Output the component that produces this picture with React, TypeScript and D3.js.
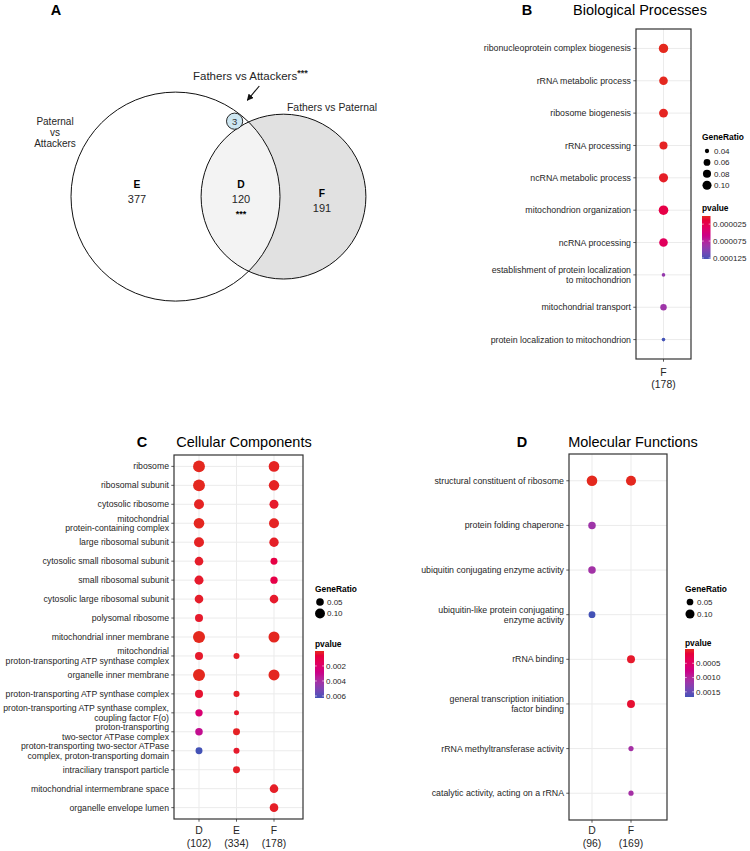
import React from "react";
import * as d3 from "d3";

const FONT = "'Liberation Sans', Arial, Helvetica, sans-serif";

// ---------------- Panel A (Venn) ----------------
const vennRegions = ["E", "D", "F"];
const vennCounts = [377, 120, 191];
const vennCommonCount = 3;
const vennLeftName = ["Paternal", "vs", "Attackers"];
const vennRightName = "Fathers vs Paternal";
const vennSmallName = "Fathers vs Attackers";

// ---------------- Panel B: Biological Processes ----------------
const bpTerms = [
  "ribonucleoprotein complex biogenesis",
  "rRNA metabolic process",
  "ribosome biogenesis",
  "rRNA processing",
  "ncRNA metabolic process",
  "mitochondrion organization",
  "ncRNA processing",
  "establishment of protein localization\nto mitochondrion",
  "mitochondrial transport",
  "protein localization to mitochondrion",
];
const bpGroups = ["F"];
const bpGroupSizes = [178];
const bpRatioF = [0.107, 0.09, 0.096, 0.079, 0.101, 0.112, 0.09, 0.039, 0.056, 0.039];
const bpPvalueF = [1.0e-6, 1.5e-6, 2.5e-6, 3.5e-6, 5e-6, 2.1e-5, 3.3e-5, 9.3e-5, 8.8e-5, 1.28e-4];
const bpSizeBreaks = [0.04, 0.06, 0.08, 0.1];
const bpPvalueBreaks = [0.000025, 0.000075, 0.000125];

// ---------------- Panel C: Cellular Components ----------------
const ccTerms = [
  "ribosome",
  "ribosomal subunit",
  "cytosolic ribosome",
  "mitochondrial\nprotein-containing complex",
  "large ribosomal subunit",
  "cytosolic small ribosomal subunit",
  "small ribosomal subunit",
  "cytosolic large ribosomal subunit",
  "polysomal ribosome",
  "mitochondrial inner membrane",
  "mitochondrial\nproton-transporting ATP synthase complex",
  "organelle inner membrane",
  "proton-transporting ATP synthase complex",
  "proton-transporting ATP synthase complex,\ncoupling factor F(o)",
  "proton-transporting\ntwo-sector ATPase complex",
  "proton-transporting two-sector ATPase\ncomplex, proton-transporting domain",
  "intraciliary transport particle",
  "mitochondrial intermembrane space",
  "organelle envelope lumen",
];
const ccGroups = ["D", "E", "F"];
const ccGroupSizes = [102, 334, 178];
const ccRatioD = [0.165, 0.165, 0.101, 0.12, 0.101, 0.067, 0.076, 0.067, 0.056, 0.17, 0.056, 0.17, 0.056, 0.046, 0.048, 0.041, null, null, null];
const ccRatioE = [null, null, null, null, null, null, null, null, null, null, 0.033, null, 0.033, 0.03, 0.041, 0.033, 0.041, null, null];
const ccRatioF = [0.12, 0.115, 0.076, 0.101, 0.085, 0.041, 0.046, 0.067, null, 0.133, null, 0.133, null, null, null, null, null, 0.067, 0.067];
const ccPvalueD = [2e-5, 3e-5, 1e-4, 5e-5, 1.2e-4, 2.5e-4, 3e-4, 2.5e-4, 3e-4, 1e-5, 3e-4, 5e-6, 4e-4, 2.2e-3, 3.2e-3, 6.27e-3, null, null, null];
const ccPvalueE = [null, null, null, null, null, null, null, null, null, null, 2e-4, null, 2e-4, 3e-4, 1.5e-4, 3e-4, 2e-4, null, null];
const ccPvalueF = [1e-4, 1.2e-4, 3e-4, 1e-4, 2e-4, 9e-4, 1e-3, 3e-4, null, 5e-5, null, 4e-5, null, null, null, null, null, 2e-4, 2e-4];
const ccSizeBreaks = [0.05, 0.1];
const ccPvalueBreaks = [0.002, 0.004, 0.006];

// ---------------- Panel D: Molecular Functions ----------------
const mfTerms = [
  "structural constituent of ribosome",
  "protein folding chaperone",
  "ubiquitin conjugating enzyme activity",
  "ubiquitin-like protein conjugating\nenzyme activity",
  "rRNA binding",
  "general transcription initiation\nfactor binding",
  "rRNA methyltransferase activity",
  "catalytic activity, acting on a rRNA",
];
const mfGroups = ["D", "F"];
const mfGroupSizes = [96, 169];
const mfRatioD = [0.156, 0.0625, 0.0625, 0.052, null, null, null, null];
const mfRatioF = [0.136, null, null, null, 0.071, 0.071, 0.041, 0.041];
const mfPvalueD = [1e-7, 1.15e-3, 1.12e-3, 1.68e-3, null, null, null, null];
const mfPvalueF = [5e-6, null, null, null, 8e-5, 1.2e-4, 1.1e-3, 1.1e-3];
const mfSizeBreaks = [0.05, 0.1];
const mfPvalueBreaks = [0.0005, 0.001, 0.0015];

const RED = "#e4291e";
const BLUE = "#4352b6";
const TXT = "#262626";

type Num = number | null;

interface PanelProps {
  id: string;
  letter: string;
  letterX: number;
  title: string;
  titleX: number;
  titleY: number;
  terms: string[];
  groups: string[];
  groupSizes: number[];
  ratios: Num[][];
  pvals: Num[][];
  box: { l: number; r: number; t: number; b: number };
  colRange: [number, number];
  colPad: number;
  labelSize: number;
  lineGap: number;
  rRange: [number, number];
  sizeBreaks: number[];
  pBreaks: number[];
  pFmt: (n: number) => string;
  axisY: [number, number];
  legend: {
    x: number;
    titleY: number;
    itemY0: number;
    itemStep: number;
    circleX: number;
    textX: number;
    pTitleY: number;
    barW: number;
    barTop: number;
    barBottom: number;
    pLabelX: number;
  };
}

function DotPanel(p: PanelProps) {
  const { box, legend } = p;
  const y = d3
    .scalePoint<number>()
    .domain(d3.range(p.terms.length))
    .range([box.t, box.b])
    .padding(0.6);
  const x = d3.scalePoint<string>().domain(p.groups).range(p.colRange).padding(p.colPad);

  const cells: { g: string; t: number; ratio: number; pv: number }[] = [];
  p.groups.forEach((g, gi) => {
    p.ratios[gi].forEach((r, ti) => {
      const pv = p.pvals[gi][ti];
      if (r != null && pv != null) cells.push({ g, t: ti, ratio: r, pv });
    });
  });
  const rExt = d3.extent(cells, (c) => c.ratio) as [number, number];
  const pExt = d3.extent(cells, (c) => c.pv) as [number, number];
  const tScale = d3.scaleLinear().domain(rExt).range([0, 1]).clamp(true);
  const radius = (v: number) => p.rRange[0] + Math.sqrt(tScale(v)) * (p.rRange[1] - p.rRange[0]);
  const color = d3
    .scaleLinear<string>()
    .domain(pExt)
    .range([RED, BLUE])
    .interpolate(d3.interpolateHcl);
  const barY = d3.scaleLinear().domain(pExt).range([legend.barTop, legend.barBottom]);
  const gradId = `grad-${p.id}`;
  const stops = d3.range(0, 1.0001, 0.05);

  return (
    <g>
      <text x={p.letterX} y={p.titleY} fontSize={14.5} fontWeight="bold" textAnchor="middle" fontFamily={FONT}>
        {p.letter}
      </text>
      <text x={p.titleX} y={p.titleY} fontSize={14.5} textAnchor="middle" fontFamily={FONT}>
        {p.title}
      </text>
      {/* grid */}
      {p.terms.map((_, i) => (
        <line key={"h" + i} x1={box.l} x2={box.r} y1={y(i)} y2={y(i)} stroke="#ebebeb" strokeWidth={1} />
      ))}
      {p.groups.map((g) => (
        <line key={"v" + g} x1={x(g)} x2={x(g)} y1={box.t} y2={box.b} stroke="#ebebeb" strokeWidth={1} />
      ))}
      {/* dots */}
      {cells.map((c, i) => (
        <circle key={"c" + i} cx={x(c.g)} cy={y(c.t)} r={radius(c.ratio)} fill={color(c.pv)} />
      ))}
      <rect x={box.l} y={box.t} width={box.r - box.l} height={box.b - box.t} fill="none" stroke="#333" strokeWidth={1.2} />
      {/* y ticks & labels */}
      {p.terms.map((term, i) => {
        const lines = term.split("\n");
        const yy = y(i) as number;
        return (
          <g key={"l" + i}>
            <line x1={box.l - 2.7} x2={box.l} y1={yy} y2={yy} stroke="#333" strokeWidth={0.8} />
            <text x={box.l - 5} textAnchor="end" fontSize={p.labelSize} fontFamily={FONT} fill={TXT}>
              {lines.map((ln, k) => (
                <tspan key={k} x={box.l - 5} y={yy + (k - (lines.length - 1) / 2) * p.lineGap + p.labelSize * 0.35}>
                  {ln}
                </tspan>
              ))}
            </text>
          </g>
        );
      })}
      {/* x ticks & labels */}
      {p.groups.map((g, gi) => (
        <g key={"x" + g}>
          <line x1={x(g)} x2={x(g)} y1={box.b} y2={box.b + 2.7} stroke="#333" strokeWidth={0.8} />
          <text x={x(g)} textAnchor="middle" fontSize={10.4} fontFamily={FONT} fill={TXT}>
            <tspan x={x(g)} y={p.axisY[0]}>{g}</tspan>
            <tspan x={x(g)} y={p.axisY[1]}>({p.groupSizes[gi]})</tspan>
          </text>
        </g>
      ))}
      {/* size legend */}
      <text x={legend.x} y={legend.titleY} fontSize={8.4} fontWeight="bold" fontFamily={FONT}>
        GeneRatio
      </text>
      {p.sizeBreaks.map((s, i) => {
        const cy = legend.itemY0 + i * legend.itemStep;
        return (
          <g key={"s" + i}>
            <circle cx={legend.circleX} cy={cy} r={radius(s)} fill="#000" />
            <text x={legend.textX} y={cy + 2.8} fontSize={8} fontFamily={FONT} fill={TXT}>
              {s.toFixed(2)}
            </text>
          </g>
        );
      })}
      {/* colour legend */}
      <defs>
        <linearGradient id={gradId} x1="0" y1="0" x2="0" y2="1">
          {stops.map((s, i) => (
            <stop key={i} offset={s} stopColor={color(pExt[0] + s * (pExt[1] - pExt[0]))} />
          ))}
        </linearGradient>
      </defs>
      <text x={legend.x} y={legend.pTitleY} fontSize={8.4} fontWeight="bold" fontFamily={FONT}>
        pvalue
      </text>
      <rect x={legend.x} y={legend.barTop} width={legend.barW} height={legend.barBottom - legend.barTop} fill={`url(#${gradId})`} />
      {p.pBreaks.map((b, i) => {
        const yy = barY(b);
        return (
          <g key={"p" + i}>
            <line x1={legend.x} x2={legend.x + 1.8} y1={yy} y2={yy} stroke="#fff" strokeWidth={0.6} />
            <line x1={legend.x + legend.barW - 1.8} x2={legend.x + legend.barW} y1={yy} y2={yy} stroke="#fff" strokeWidth={0.6} />
            <text x={legend.pLabelX} y={yy + 2.8} fontSize={8} fontFamily={FONT} fill={TXT}>
              {p.pFmt(b)}
            </text>
          </g>
        );
      })}
    </g>
  );
}

function VennPanel() {
  const rScale = d3.scaleSqrt().domain([0, 500]).range([0, 104.5]);
  const leftTotal = vennCounts[0] + vennCounts[1] + vennCommonCount;
  const rightTotal = vennCounts[1] + vennCounts[2];
  const rL = rScale(leftTotal);
  const rR = rScale(rightTotal);
  const rS = rScale(vennCommonCount);
  const cL = { x: 175.5, y: 196.6 };
  const cR = { x: 283.5, y: 196.6 };
  const cS = { x: 234.6, y: 121.2 };
  return (
    <g fontFamily={FONT}>
      <defs>
        <clipPath id="clipLeft">
          <circle cx={cL.x} cy={cL.y} r={rL} />
        </clipPath>
        <marker id="arrowHead" viewBox="0 0 10 10" refX="9" refY="5" markerWidth="6" markerHeight="6" orient="auto">
          <path d="M0,0 L10,5 L0,10 z" fill="#111" />
        </marker>
      </defs>
      <text x={56} y={14.5} fontSize={14.5} fontWeight="bold" textAnchor="middle">
        A
      </text>
      <circle cx={cR.x} cy={cR.y} r={rR} fill="#e1e1e1" />
      <circle cx={cR.x} cy={cR.y} r={rR} fill="#f3f3f3" clipPath="url(#clipLeft)" />
      <circle cx={cL.x} cy={cL.y} r={rL} fill="none" stroke="#111" strokeWidth={1} />
      <circle cx={cR.x} cy={cR.y} r={rR} fill="none" stroke="#111" strokeWidth={1} />
      <circle cx={cS.x} cy={cS.y} r={rS} fill="#cde6f1" stroke="#111" strokeWidth={0.9} />
      <text x={cS.x} y={cS.y + 3.4} fontSize={9.5} textAnchor="middle" fill="#333">
        {vennCommonCount}
      </text>
      {/* arrow */}
      <line x1={259.3} y1={86} x2={247.3} y2={100.3} stroke="#111" strokeWidth={1.1} markerEnd="url(#arrowHead)" />
      {/* set labels */}
      <text x={193} y={80} fontSize={11.5} fill={TXT}>
        {vennSmallName}
        <tspan fontSize={9} fontWeight="bold" dy={-4}>***</tspan>
      </text>
      <text x={287} y={111.3} fontSize={10.4} fill={TXT}>
        {vennRightName}
      </text>
      <text x={55} fontSize={10} textAnchor="middle" fill={TXT}>
        {vennLeftName.map((ln, i) => (
          <tspan key={ln} x={55} y={124.5 + i * 11.3}>
            {ln}
          </tspan>
        ))}
      </text>
      {/* region labels */}
      <text x={137} y={188.3} fontSize={10.3} fontWeight="bold" textAnchor="middle">
        {vennRegions[0]}
      </text>
      <text x={137} y={202.7} fontSize={11} textAnchor="middle" fill={TXT}>
        {vennCounts[0]}
      </text>
      <text x={241} y={188.3} fontSize={10.3} fontWeight="bold" textAnchor="middle">
        {vennRegions[1]}
      </text>
      <text x={241} y={202.7} fontSize={11} textAnchor="middle" fill={TXT}>
        {vennCounts[1]}
      </text>
      <text x={241} y={216.5} fontSize={9} fontWeight="bold" textAnchor="middle">
        ***
      </text>
      <text x={322} y={196.7} fontSize={10.3} fontWeight="bold" textAnchor="middle">
        {vennRegions[2]}
      </text>
      <text x={322} y={212} fontSize={11} textAnchor="middle" fill={TXT}>
        {vennCounts[2]}
      </text>
    </g>
  );
}

export default function App() {
  return (
    <svg
      width={750}
      height={851}
      viewBox="0 0 750 851"
      style={{ position: "absolute", left: 0, top: 0, background: "#fff" }}
      fontFamily={FONT}
    >
      <rect width={750} height={851} fill="#fff" />
      <VennPanel />
      <DotPanel
        id="bp"
        letter="B"
        letterX={527}
        title="Biological Processes"
        titleX={640}
        titleY={14.5}
        terms={bpTerms}
        groups={bpGroups}
        groupSizes={bpGroupSizes}
        ratios={[bpRatioF]}
        pvals={[bpPvalueF]}
        box={{ l: 636, r: 691, t: 29, b: 359 }}
        colRange={[636, 691]}
        colPad={0.6}
        labelSize={8.8}
        lineGap={10.5}
        rRange={[1.8, 4.8]}
        sizeBreaks={bpSizeBreaks}
        pBreaks={bpPvalueBreaks}
        pFmt={d3.format(".6f")}
        axisY={[375.5, 388]}
        legend={{
          x: 702,
          titleY: 140,
          itemY0: 151,
          itemStep: 11.4,
          circleX: 707,
          textX: 714,
          pTitleY: 211,
          barW: 8.5,
          barTop: 216,
          barBottom: 259,
          pLabelX: 713,
        }}
      />
      <DotPanel
        id="cc"
        letter="C"
        letterX={142}
        title="Cellular Components"
        titleX={244}
        titleY={446.5}
        terms={ccTerms}
        groups={ccGroups}
        groupSizes={ccGroupSizes}
        ratios={[ccRatioD, ccRatioE, ccRatioF]}
        pvals={[ccPvalueD, ccPvalueE, ccPvalueF]}
        box={{ l: 174, r: 303, t: 455, b: 819 }}
        colRange={[199, 274]}
        colPad={0}
        labelSize={8.7}
        lineGap={9.5}
        rRange={[2.5, 6]}
        sizeBreaks={ccSizeBreaks}
        pBreaks={ccPvalueBreaks}
        pFmt={d3.format(".3f")}
        axisY={[834, 847]}
        legend={{
          x: 315,
          titleY: 592,
          itemY0: 602,
          itemStep: 11.5,
          circleX: 320,
          textX: 327,
          pTitleY: 647,
          barW: 9,
          barTop: 651,
          barBottom: 698,
          pLabelX: 326,
        }}
      />
      <DotPanel
        id="mf"
        letter="D"
        letterX={522}
        title="Molecular Functions"
        titleX={633}
        titleY={446.5}
        terms={mfTerms}
        groups={mfGroups}
        groupSizes={mfGroupSizes}
        ratios={[mfRatioD, mfRatioF]}
        pvals={[mfPvalueD, mfPvalueF]}
        box={{ l: 569, r: 667, t: 454, b: 820 }}
        colRange={[592, 631]}
        colPad={0}
        labelSize={8.8}
        lineGap={10.5}
        rRange={[2.6, 5.3]}
        sizeBreaks={mfSizeBreaks}
        pBreaks={mfPvalueBreaks}
        pFmt={d3.format(".4f")}
        axisY={[834, 847]}
        legend={{
          x: 685,
          titleY: 592,
          itemY0: 602,
          itemStep: 12,
          circleX: 690,
          textX: 697,
          pTitleY: 646,
          barW: 9,
          barTop: 649,
          barBottom: 697,
          pLabelX: 696,
        }}
      />
    </svg>
  );
}
